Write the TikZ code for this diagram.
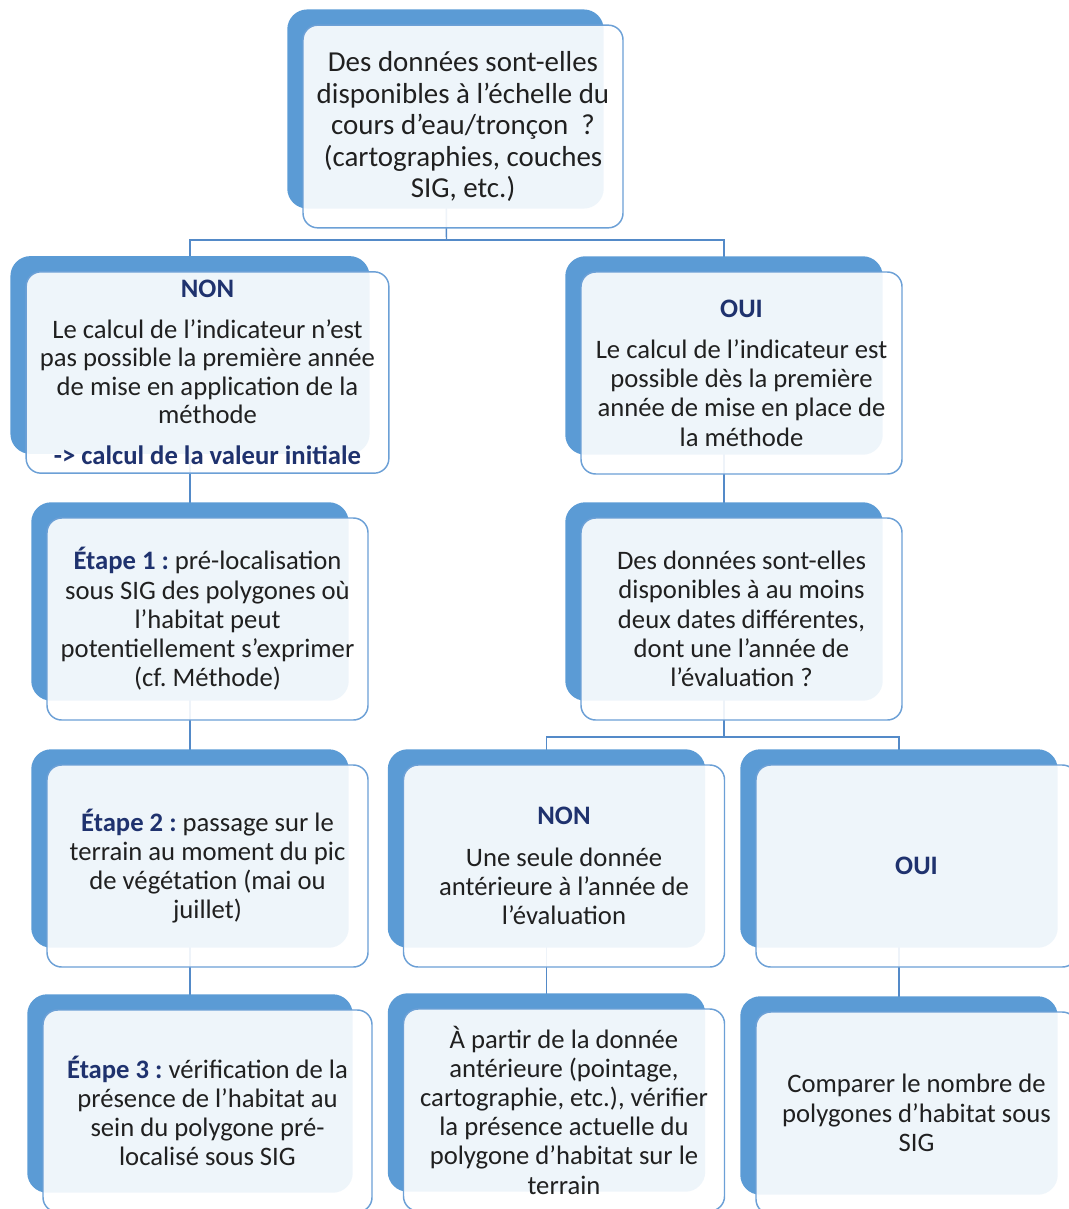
\documentclass[tikz,border=0pt]{standalone}
\usepackage{fontspec}
\setmainfont{Carlito}
\usetikzlibrary{backgrounds,calc}
\definecolor{backblue}{RGB}{91,155,213}
\definecolor{edgeblue}{RGB}{108,160,214}
\definecolor{lineblue}{RGB}{84,138,200}
\definecolor{navy}{RGB}{31,50,110}
\definecolor{txt}{RGB}{32,32,32}
\newcommand{\hd}[1]{\textbf{\color{navy}#1}}
\frenchspacing

\begin{document}
\begin{tikzpicture}[x=0.75pt,y=-0.75pt]
\tikzstyle{block} = [rectangle, draw=edgeblue, line width=1.1pt, fill=white,
fill opacity=0.9, text opacity=1, text=txt, rounded corners=11pt,
minimum width=240.75pt, minimum height=151.5pt, align=center, inner sep=0pt,
font=\fontsize{20}{21.9}\selectfont]
\tikzstyle{back} = [fill=backblue, rounded corners=15pt]
\tikzstyle{link} = [draw=lineblue, line width=1.1pt]
\useasboundingbox (0,0) rectangle (1069,1209);

% row 1
\node [block, minimum width=240pt, minimum height=152pt,
font=\fontsize{21.7}{23.6}\selectfont] (question) at (463,126.5)
{Des données sont-elles\\disponibles à l’échelle du\\cours d’eau/tronçon\ \ ?\\(cartographies, couches\\SIG, etc.)};
% row 2
\node [block, minimum width=272pt, minimum height=151pt,
font=\fontsize{20}{21.4}\selectfont] (nonA) at (207.5,372.5)
{\hd{NON}\\[9pt]Le calcul de l’indicateur n’est\\pas possible la première année\\de mise en application de la\\méthode\\[9pt]\hd{-> calcul de la valeur initiale}};
\node [block] (ouiA) at (741.5,373)
{\hd{OUI}\\[9pt]Le calcul de l’indicateur est\\possible dès la première\\année de mise en place de\\la méthode};
% row 3
\node [block] (etape1) at (207.5,619)
{\hd{Étape 1 :} pré-localisation\\sous SIG des polygones où\\l’habitat peut\\potentiellement s’exprimer\\(cf. Méthode)};
\node [block] (dates) at (741.5,619)
{Des données sont-elles\\disponibles à au moins\\deux dates différentes,\\dont une l’année de\\l’évaluation ?};
% row 4
\node [block] (etape2) at (207.5,866)
{\hd{Étape 2 :} passage sur le\\terrain au moment du pic\\de végétation (mai ou\\juillet)};
\node [block] (nonB) at (564,866)
{\hd{NON}\\[9pt]Une seule donnée\\antérieure à l’année de\\l’évaluation};
\node [block] (ouiB) at (916.5,866) {\hd{OUI}};
% row 5
\node [block, minimum width=246.75pt] (etape3) at (207.5,1111)
{\hd{Étape 3 :} vérification de la\\présence de l’habitat au\\sein du polygone pré-\\localisé sous SIG};
\node [block] (partir) at (564,1110)
{À partir de la donnée\\antérieure (pointage,\\cartographie, etc.), vérifier\\la présence actuelle du\\polygone d’habitat sur le\\terrain};
\node [block] (compare) at (916.5,1113)
{Comparer le nombre de\\polygones d’habitat sous\\SIG};

\foreach \n in {question,nonA,ouiA,etape1,dates,etape2,nonB,ouiB,etape3,partir,compare}
  \coordinate (\n-b) at ($(\n.center)+(-17.5,-17.5)$);
\coordinate (split1) at (446.5,240);
\coordinate (split2) at (724,737);

\begin{scope}[on background layer]
\path[link] (question-b) -- (split1);
\path[link] (nonA-b) |- (split1);
\path[link] (ouiA-b) |- (split1);
\path[link] (nonA-b) -- (etape1-b) -- (etape2-b) -- (etape3-b);
\path[link] (ouiA-b) -- (dates-b) -- (split2);
\path[link] (nonB-b) |- (split2);
\path[link] (ouiB-b) |- (split2);
\path[link] (nonB-b) -- (partir-b);
\path[link] (ouiB-b) -- (compare-b);
\foreach \n in {question,nonA,ouiA,etape1,dates,etape2,nonB,ouiB,etape3,partir,compare}
  \path[back] ($(\n.north west)+(-15,-15)$) rectangle ($(\n.south east)+(-20,-20)$);
\end{scope}
\end{tikzpicture}
\end{document}
